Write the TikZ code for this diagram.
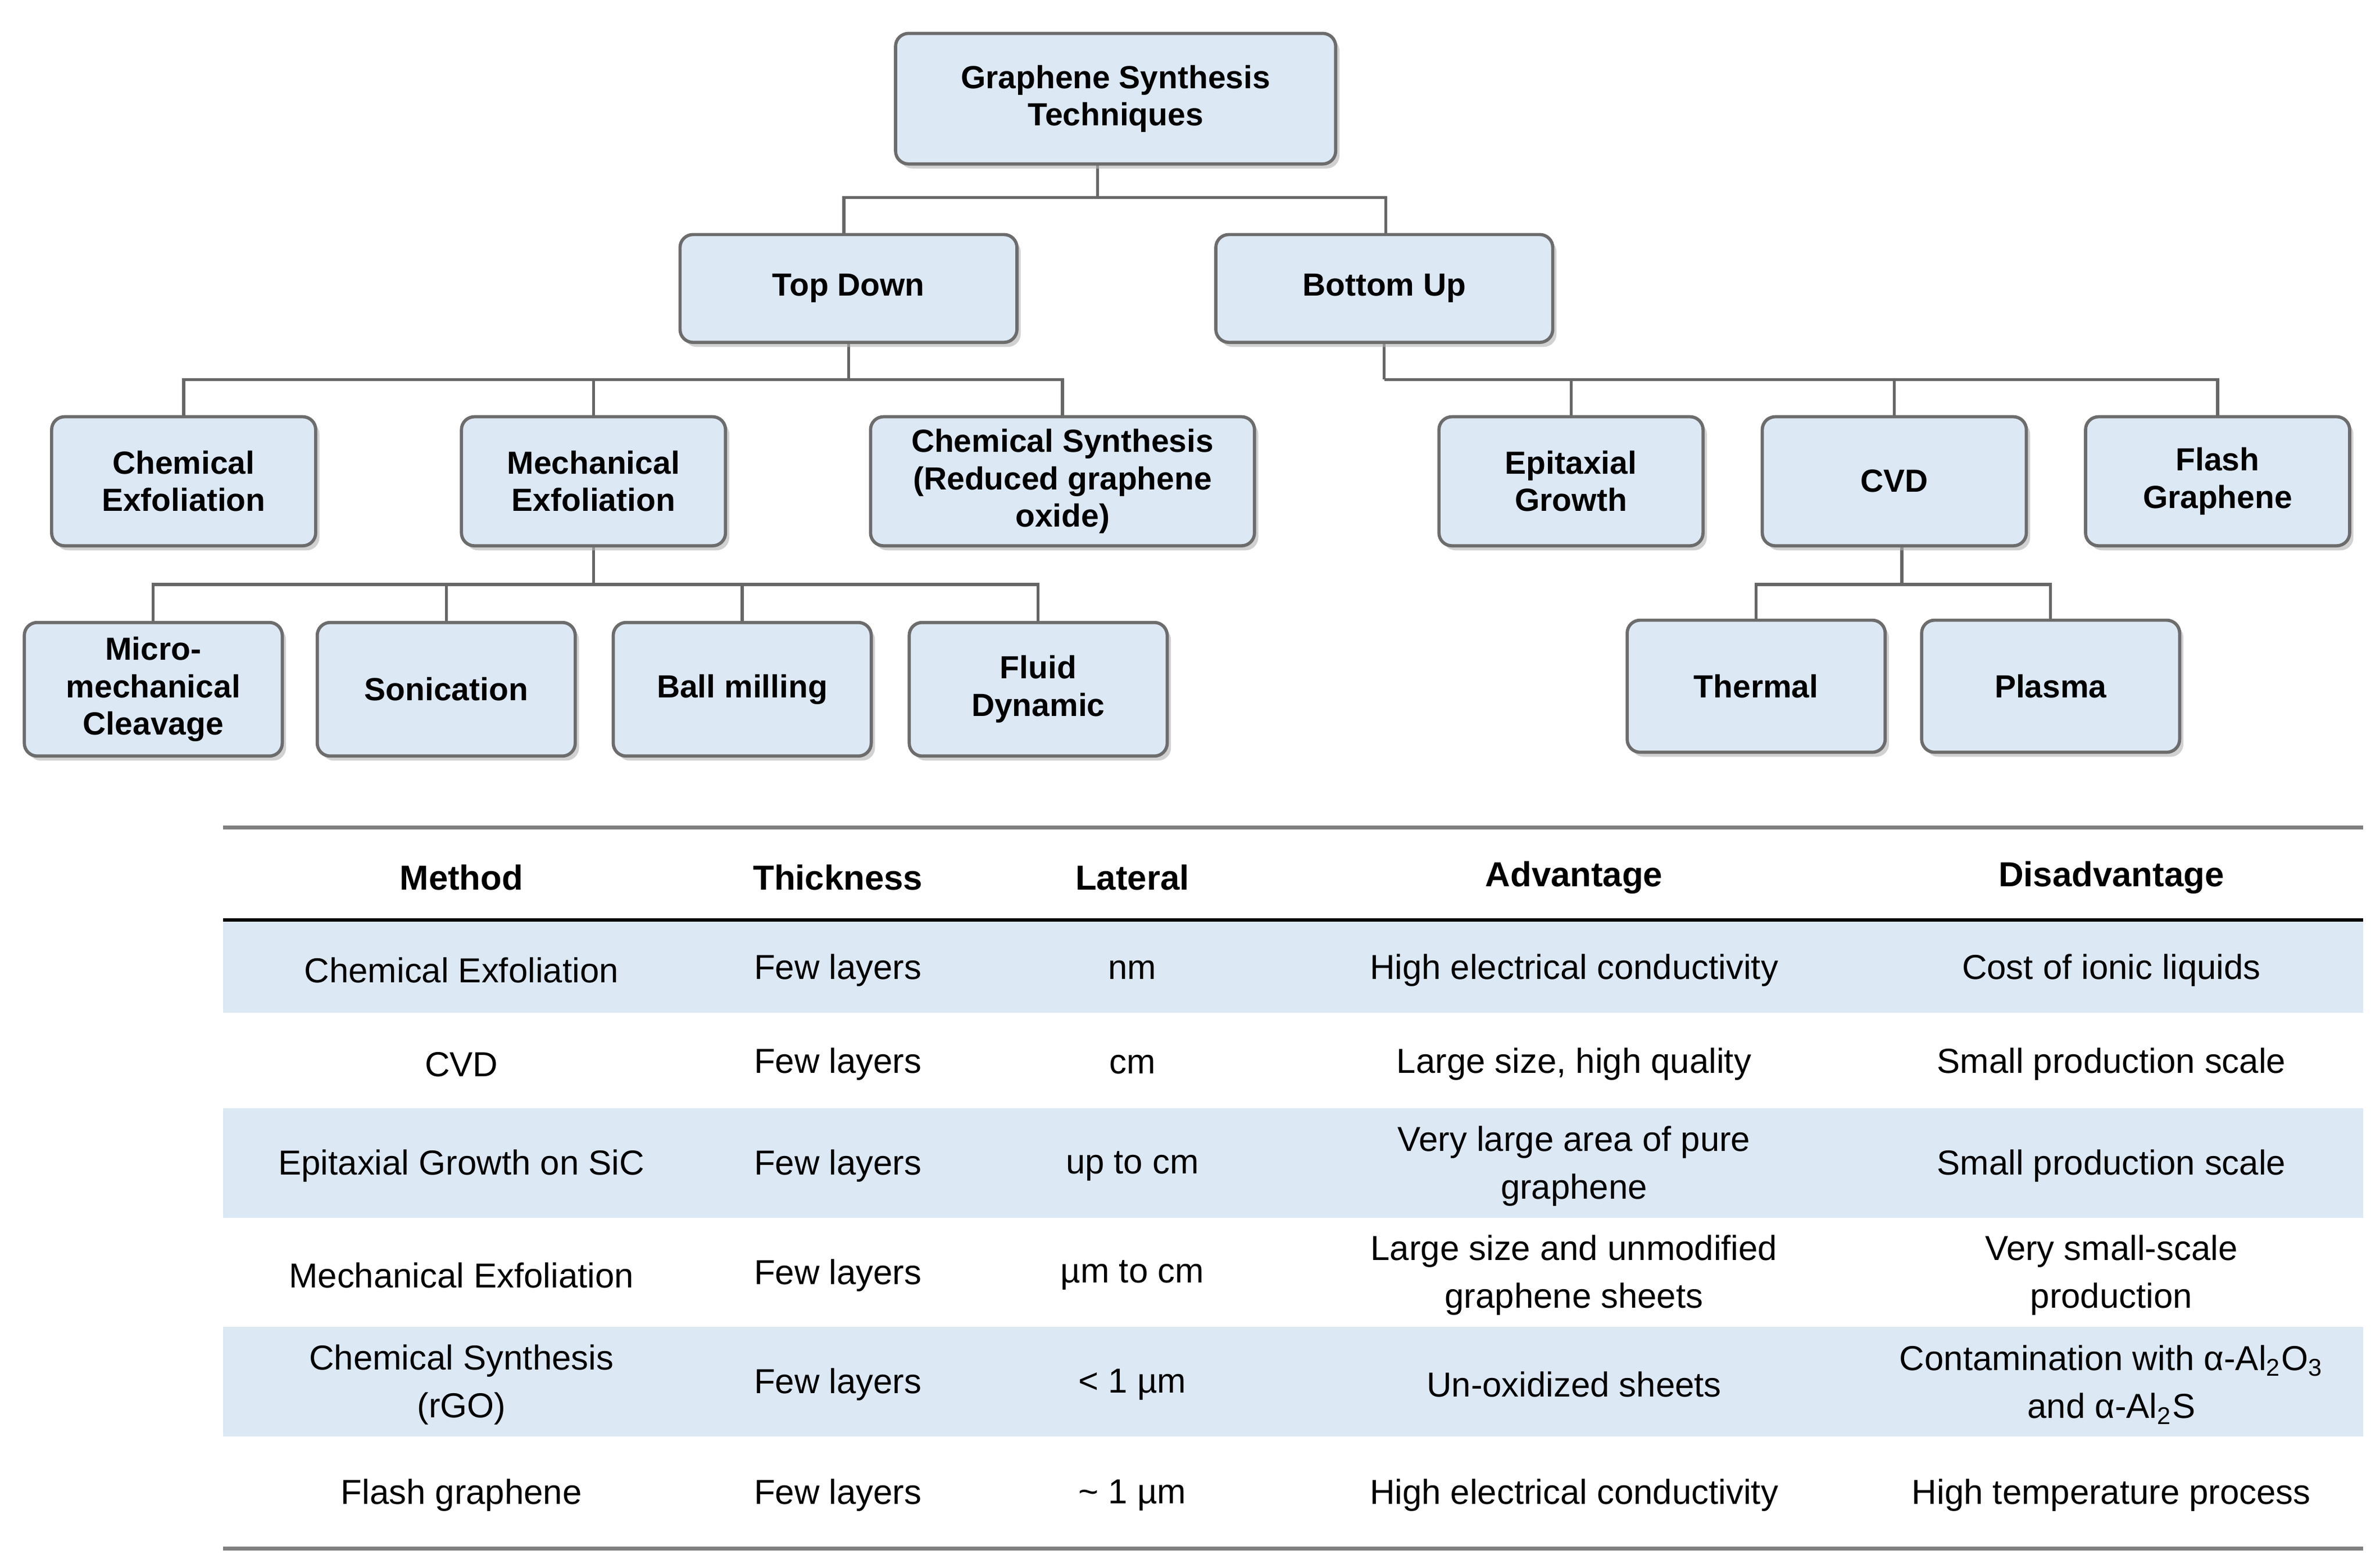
\documentclass[tikz,border=0pt]{standalone}
\usepackage{fontspec}
\setmainfont{Liberation Sans}
\usetikzlibrary{shadows}
\definecolor{lb}{RGB}{220,232,244}
\begin{document}
\begin{tikzpicture}[x=0.02cm,y=-0.02cm,
 box/.style={draw=gray!85!black,line width=1.2pt,rounded corners=0.17cm,fill=lb,
   align=center,font=\fontsize{12}{14}\selectfont\bfseries,inner sep=0pt,
   drop shadow={shadow xshift=0.05cm,shadow yshift=-0.06cm,fill=gray!60,opacity=0.6}},
 conn/.style={draw=gray!80!black,line width=1.1pt},
 cell/.style={font=\fontsize{13}{18}\selectfont,align=center,anchor=center},
 head/.style={font=\fontsize{13}{18}\selectfont\bfseries,anchor=center}]
\useasboundingbox (0,0) rectangle (1568,1030);
% connectors first (behind boxes)
\coordinate (j0) at (723,130);
\coordinate (j1) at (559,250);
\coordinate (j2) at (912,250);
\coordinate (j3) at (391,385);
\coordinate (j4) at (1253,385);
\coordinate (t0) at (723,108);
\coordinate (t4) at (1253,360);
\coordinate (ntd) at (556,155); \coordinate (nbu) at (913,155);
\coordinate (std) at (559,226); \coordinate (sbu) at (912,226);
\coordinate (nce) at (121,275); \coordinate (nme) at (391,275); \coordinate (ncs) at (700,275);
\coordinate (neg) at (1035,275); \coordinate (ncvd) at (1248,275); \coordinate (nfg) at (1461,275);
\coordinate (sme) at (391,360);
\coordinate (nmc) at (101,410); \coordinate (nso) at (294,410); \coordinate (nbm) at (489,410); \coordinate (nfd) at (684,410);
\coordinate (nth) at (1157,408); \coordinate (npl) at (1351,408);
\draw[conn] (t0) -- (j0); \draw[conn] (j0) -| (ntd); \draw[conn] (j0) -| (nbu);
\draw[conn] (std) -- (j1);
\foreach \b in {nce,nme,ncs} \draw[conn] (j1) -| (\b);
\draw[conn] (sbu) -- (j2);
\foreach \b in {neg,ncvd,nfg} \draw[conn] (j2) -| (\b);
\draw[conn] (sme) -- (j3);
\foreach \b in {nmc,nso,nbm,nfd} \draw[conn] (j3) -| (\b);
\draw[conn] (t4) -- (j4);
\foreach \b in {nth,npl} \draw[conn] (j4) -| (\b);
% boxes
\node[box,minimum width=5.8cm,minimum height=1.72cm] (root) at (735,65) {Graphene Synthesis\\Techniques};
\node[box,minimum width=4.44cm,minimum height=1.42cm] (td) at (559,190) {Top Down};
\node[box,minimum width=4.44cm,minimum height=1.42cm] (bu) at (912,190) {Bottom Up};
\foreach \n/\x/\t in {ce/121/{Chemical\\Exfoliation},me/391/{Mechanical\\Exfoliation},eg/1035/{Epitaxial\\Growth},cvd/1248/CVD,fg/1461/{Flash\\Graphene}}
 \node[box,minimum width=3.48cm,minimum height=1.7cm] (\n) at (\x,317) {\t};
\node[box,minimum width=5.06cm,minimum height=1.7cm] (cs) at (700,317) {Chemical Synthesis\\(Reduced graphene\\oxide)};
\foreach \n/\x/\t in {mc/101/{Micro-\\mechanical\\Cleavage},so/294/Sonication,bm/489/Ball milling,fd/684/{Fluid\\Dynamic}}
 \node[box,minimum width=3.4cm,minimum height=1.76cm] (\n) at (\x,454) {\t};
\foreach \n/\x/\t in {th/1157/Thermal,pl/1351/Plasma}
 \node[box,minimum width=3.4cm,minimum height=1.74cm] (\n) at (\x,452) {\t};
% table
\fill[lb] (147,606) rectangle (1557,667);
\fill[lb] (147,730) rectangle (1557,802);
\fill[lb] (147,874) rectangle (1557,946);
\draw[gray,line width=1.5pt] (147,545) -- (1557,545);
\draw[black,line width=1.3pt] (147,606) -- (1557,606);
\draw[gray,line width=1.5pt] (147,1020) -- (1557,1020);
\node[head] (h1) at (304,578) {Method};
\node[head] (h2) at (552,578) {Thickness};
\node[head] (h3) at (746,578) {Lateral};
\node[head] (h4) at (1037,578) {Advantage};
\node[head] (h5) at (1391,578) {Disadvantage};
\foreach \y/\a/\b/\c/\d/\e [count=\i] in {
 639/Chemical Exfoliation/Few layers/nm/High electrical conductivity/Cost of ionic liquids,
 701/CVD/Few layers/cm/{Large size, high quality}/Small production scale,
 768/Epitaxial Growth on SiC/Few layers/up to cm/{Very large area of pure\\graphene}/Small production scale,
 840/Mechanical Exfoliation/Few layers/µm to cm/{Large size and unmodified\\graphene sheets}/{Very small-scale\\production},
 912/{Chemical Synthesis\\(rGO)}/Few layers/< 1 µm/Un-oxidized sheets/{Contamination with α-Al\textsubscript{2}O\textsubscript{3}\\and α-Al\textsubscript{2}S},
 985/Flash graphene/Few layers/\textasciitilde{} 1 µm/High electrical conductivity/High temperature process}{
 \node[cell] (r\i a) at (304,\y) {\a};
 \node[cell] (r\i b) at (552,\y) {\b};
 \node[cell] (r\i c) at (746,\y) {\c};
 \node[cell] (r\i d) at (1037,\y) {\d};
 \node[cell] (r\i e) at (1391,\y) {\e};
}
\end{tikzpicture}
\end{document}
